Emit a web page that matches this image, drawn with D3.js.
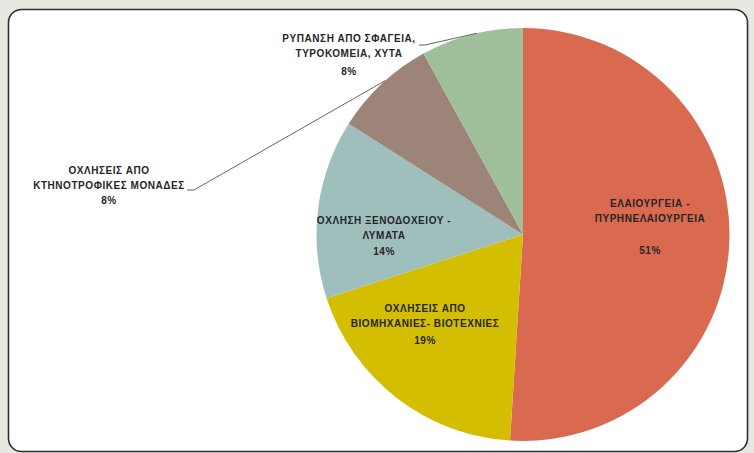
<!DOCTYPE html>
<html>
<head>
<meta charset="utf-8">
<script src="https://cdn.jsdelivr.net/npm/d3@7"></script>
<style>
  html, body { margin: 0; padding: 0; background: #e7e8e2; }
  svg { display: block; }
  text { font-family: "Liberation Sans", Arial, sans-serif; font-weight: bold; font-size: 10px; letter-spacing: 0.55px; fill: #262626; }
</style>
</head>
<body>
<svg id="chart" width="754" height="453"></svg>
<script>
// Pollution sources, share of total (%)
const categories = [
  ["ΕΛΑΙΟΥΡΓΕΙΑ  -", "ΠΥΡΗΝΕΛΑΙΟΥΡΓΕΙΑ"],
  ["ΟΧΛΗΣΕΙΣ ΑΠΟ", "ΒΙΟΜΗΧΑΝΙΕΣ- ΒΙΟΤΕΧΝΙΕΣ"],
  ["ΟΧΛΗΣΗ ΞΕΝΟΔΟΧΕΙΟΥ -", "ΛΥΜΑΤΑ"],
  ["ΟΧΛΗΣΕΙΣ ΑΠΟ", "ΚΤΗΝΟΤΡΟΦΙΚΕΣ ΜΟΝΑΔΕΣ"],
  ["ΡΥΠΑΝΣΗ ΑΠΟ ΣΦΑΓΕΙΑ,", "ΤΥΡΟΚΟΜΕΙΑ, ΧΥΤΑ"]
];
const values = [51, 19, 14, 8, 8];
const colors = ["#d9694f", "#d4be02", "#9fbfbd", "#9d8479", "#9fbf9b"];

const svg = d3.select("#chart");

// card frame
svg.append("rect")
  .attr("x", 8.5).attr("y", 9.5)
  .attr("width", 739).attr("height", 442)
  .attr("rx", 13).attr("ry", 13)
  .attr("fill", "#ffffff")
  .attr("stroke", "#2e2e2e")
  .attr("stroke-width", 1.6);

const cx = 523, cy = 234.5, r = 206.5;

const pie = d3.pie().sort(null).value(d => d)(values);
const arc = d3.arc().innerRadius(0).outerRadius(r);

const g = svg.append("g").attr("transform", `translate(${cx},${cy})`);
g.selectAll("path")
  .data(pie)
  .join("path")
  .attr("d", arc)
  .attr("fill", (d, i) => colors[i]);

// label layout: centre x, baseline of first line, line gap, gap before percentage
const labelPos = [
  { x: 650, y: 207, gap: 15, pctGap: 32 },
  { x: 425, y: 311.5, gap: 15, pctGap: 17 },
  { x: 384, y: 223.5, gap: 15, pctGap: 16 },
  { x: 109, y: 173.5, gap: 15, pctGap: 15 },
  { x: 349, y: 41.5, gap: 15, pctGap: 18 }
];

const labels = svg.append("g");
pie.forEach((d, i) => {
  const p = labelPos[i];
  const t = labels.append("text")
    .attr("text-anchor", "middle")
    .attr("x", p.x).attr("y", p.y);
  categories[i].forEach((line, k) => {
    t.append("tspan").attr("x", p.x).attr("y", p.y + k * p.gap).text(line);
  });
  t.append("tspan")
    .attr("x", p.x)
    .attr("y", p.y + (categories[i].length - 1) * p.gap + p.pctGap)
    .text(values[i] + "%");
});

// leader lines for the two small outside labels, ending on the slice edge
function edgePoint(angle) {
  return [cx + r * Math.sin(angle), cy - r * Math.cos(angle)];
}
const brownMid = pie[3].startAngle + (pie[3].endAngle - pie[3].startAngle) * 0.55;
const greenMid = pie[4].startAngle + (pie[4].endAngle - pie[4].startAngle) * 0.55;
const line = d3.line();
svg.append("path")
  .attr("d", line([[187, 190], [194, 190], edgePoint(brownMid)]))
  .attr("fill", "none").attr("stroke", "#555").attr("stroke-width", 0.9);
svg.append("path")
  .attr("d", line([[419, 45], [425, 45], edgePoint(greenMid)]))
  .attr("fill", "none").attr("stroke", "#555").attr("stroke-width", 0.9);
</script>
</body>
</html>
